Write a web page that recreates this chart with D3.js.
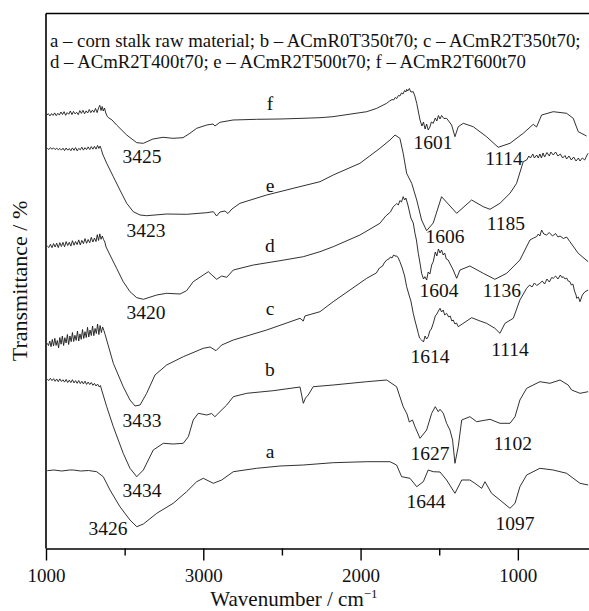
<!DOCTYPE html>
<html>
<head>
<meta charset="utf-8">
<script src="https://cdn.jsdelivr.net/npm/d3@7"></script>
<style>
  html, body { margin: 0; padding: 0; background: #fff; }
  svg { display: block; }
  text { font-family: "Liberation Serif", "DejaVu Serif", serif; fill: #111; }
</style>
</head>
<body>
<svg id="chart" width="589" height="611"></svg>
<script>
// ---------- DATA ----------
const seriesNames = ["a", "b", "c", "d", "e", "f"];
const legendLines = [
  "a \u2013 corn stalk raw material; b \u2013 ACmR0T350t70; c \u2013 ACmR2T350t70;",
  "d \u2013 ACmR2T400t70; e \u2013 ACmR2T500t70; f \u2013 ACmR2T600t70"
];
const majorTicks = [4000, 3000, 2000, 1000];
const majorTickLabels = ["1000", "3000", "2000", "1000"];
const minorTicks = [3500, 2500, 1500, 500];
const xTitle = "Wavenumber / cm";
const xTitleSup = "\u22121";
const yTitle = "Transmittance / %";

// [wavenumber, transmittance (offset, arbitrary units)]
const traceF = [[3994,433.5],[3985,434.8],[3975,432.6],[3965,434.9],[3955,433.1],[3945,435.6],[3935,432.8],[3925,435.2],[3915,433.4],[3905,436.5],[3895,434.0],[3885,436.8],[3875,433.2],[3865,435.9],[3855,434.3],[3845,437.5],[3835,433.9],[3825,437.1],[3815,434.6],[3805,436.2],[3795,433.8],[3785,437.9],[3775,435.1],[3765,438.2],[3755,434.7],[3745,437.6],[3735,435.5],[3725,439.0],[3715,435.8],[3705,438.4],[3695,436.2],[3685,440.1],[3675,435.9],[3665,441.0],[3658,443.2],[3650,438.0],[3643,442.0],[3636,437.5],[3628,440.5],[3620,435.5],[3610,432.0],[3600,430.5],[3580,428.5],[3551,423.5],[3487,413.5],[3423,405.8],[3381,405.2],[3320,409.5],[3256,411.2],[3193,410.2],[3129,410.8],[3085,415.2],[3042,420.2],[2978,423.5],[2938,424.5],[2926,422.5],[2894,426.2],[2811,428.5],[2661,429.2],[2512,429.5],[2366,430.2],[2258,430.8],[2176,431.8],[1961,436.8],[1900,440],[1834,445.2],[1815,447.5],[1800,449],[1790,448.5],[1780,451],[1770,450],[1760,453],[1750,452.5],[1740,455.5],[1730,454.5],[1720,458],[1712,456.5],[1707,459.2],[1700,457.5],[1690,460],[1680,456.5],[1665,456.8],[1655,452.5],[1643,445.2],[1622,428.5],[1610,422.5],[1600,426.5],[1590,419.5],[1580,424.5],[1570,418.5],[1559,421.5],[1550,426.5],[1538,425.2],[1525,430.5],[1515,427.5],[1505,433],[1495,429.5],[1485,433],[1470,430],[1453,430.2],[1421,423.5],[1400,411.8],[1379,421.8],[1347,425.2],[1284,421.8],[1199,411.8],[1125,401.2],[1050,405.2],[966,415.2],[902,424.2],[881,421.5],[849,433.5],[775,436.8],[690,435.2],[648,430.2],[616,416.8],[563,412.5]];

const traceE = [[3992,400.2],[3982,399.0],[3972,400.8],[3962,399.3],[3952,400.6],[3942,398.9],[3932,400.4],[3922,398.6],[3912,400.1],[3902,398.4],[3892,400.3],[3882,397.9],[3872,400.5],[3862,398.3],[3852,400.0],[3842,397.8],[3832,400.6],[3822,398.2],[3812,400.9],[3802,397.6],[3792,400.1],[3782,398.7],[3772,401.3],[3762,398.4],[3752,400.8],[3742,398.9],[3732,401.6],[3722,399.0],[3712,401.9],[3702,399.3],[3692,402.2],[3682,399.4],[3672,403.0],[3664,400.1],[3656,402.4],[3648,399.0],[3640,394.5],[3614,385.2],[3572,371.8],[3530,358.5],[3487,345.2],[3445,336.8],[3402,333.5],[3360,332.8],[3233,334.5],[3106,334.2],[2978,335.8],[2936,336.8],[2915,332.5],[2894,336.5],[2862,337.5],[2843,335],[2818,339.5],[2767,345.2],[2597,353.5],[2428,360.2],[2258,366.8],[2174,373.5],[2004,385.2],[1877,400.2],[1813,408.5],[1781,413.5],[1750,410.2],[1729,395.2],[1707,375.2],[1675,365.2],[1643,348.5],[1612,328.5],[1580,317.8],[1538,325.5],[1485,351.8],[1389,335.2],[1294,348.5],[1220,341.8],[1177,339.2],[1114,345.2],[1050,355.2],[1008,365.2],[966,386.8],[944,388.5],[930,392.5],[920,390.5],[905,394.5],[895,390.5],[880,393.5],[870,390.5],[860,394.5],[850,390.5],[840,395.5],[830,391.5],[815,396],[800,392.5],[790,396.5],[775,393.5],[760,396.5],[745,392.5],[730,394.5],[715,390.5],[700,393],[690,389.5],[675,392.5],[660,388.5],[645,391.5],[630,387.5],[615,390.5],[605,387.5],[590,390.5],[575,388.5],[560,393.5],[553,395.2]];

const traceD = [[3992,302.5],[3982,301.0],[3972,304.2],[3962,300.8],[3952,304.9],[3942,301.5],[3932,305.3],[3922,300.9],[3912,305.8],[3902,302.0],[3892,306.1],[3882,301.7],[3872,306.9],[3862,303.0],[3852,306.2],[3842,302.4],[3832,307.8],[3822,303.3],[3812,307.0],[3802,303.9],[3792,308.6],[3782,303.5],[3772,308.1],[3762,304.8],[3752,309.9],[3742,305.2],[3732,309.0],[3722,305.8],[3712,311.2],[3702,306.5],[3692,310.4],[3682,306.9],[3674,313.8],[3666,308.0],[3658,314.6],[3650,309.2],[3642,312.5],[3634,309.0],[3626,306.5],[3618,301.5],[3593,293.5],[3551,280.2],[3509,266.8],[3466,256.8],[3423,250.8],[3381,249.2],[3296,253.5],[3233,255.2],[3148,254.5],[3106,257.8],[3064,266.8],[3000,273.5],[2968,276.8],[2945,273.5],[2915,269.2],[2883,272.5],[2851,271.2],[2809,278.5],[2682,283.5],[2512,287.8],[2364,291.8],[2258,296.8],[2174,301.8],[2004,313.5],[1877,325.2],[1840,332.5],[1810,336.5],[1800,339.5],[1792,341.8],[1780,343.5],[1770,345],[1760,343.5],[1750,348],[1740,346.5],[1729,351.8],[1720,348.5],[1712,350.5],[1699,343.5],[1680,330.5],[1665,325.5],[1654,315.2],[1645,308.5],[1633,295.2],[1620,283.5],[1612,275.2],[1600,269.5],[1591,271.8],[1580,268.5],[1570,276.5],[1559,274.5],[1548,283.5],[1538,286.8],[1525,296.5],[1515,292.5],[1505,299.5],[1495,295.5],[1485,298.5],[1475,293.5],[1465,295.5],[1455,289.5],[1443,288.5],[1411,278.5],[1389,270.2],[1368,278.5],[1305,282.5],[1220,275.2],[1146,269.2],[1071,275.2],[987,288.5],[923,308.5],[900,310.5],[881,311.8],[870,314.5],[860,312.5],[849,318.5],[835,314.5],[817,313.5],[800,316],[780,312.5],[760,315],[745,311.5],[732,312.5],[710,310],[690,311.5],[669,306.8],[616,295.2],[553,286.8]];

const traceC = [[3992,205.2],[3984,203.0],[3976,207.5],[3968,201.8],[3960,209.0],[3952,202.5],[3944,210.2],[3936,203.1],[3928,208.0],[3920,200.5],[3912,211.0],[3904,204.3],[3896,212.5],[3888,203.0],[3880,210.8],[3872,205.5],[3864,214.0],[3856,204.0],[3848,212.5],[3840,206.8],[3832,216.0],[3824,207.0],[3816,213.2],[3808,208.1],[3800,217.5],[3792,207.5],[3784,214.6],[3776,209.2],[3768,219.0],[3760,210.0],[3752,216.8],[3744,211.0],[3736,221.2],[3728,211.5],[3720,218.5],[3712,213.0],[3704,222.5],[3696,212.8],[3688,220.0],[3680,215.0],[3672,224.5],[3664,214.0],[3656,223.0],[3648,216.0],[3640,221.5],[3632,218.0],[3624,214.0],[3616,209.5],[3572,185.2],[3509,161.8],[3466,148.5],[3434,142.5],[3402,143.5],[3360,155.2],[3307,173.5],[3233,183.5],[3127,191.8],[3000,200.2],[2957,201.5],[2919,197.8],[2883,203.5],[2809,208.5],[2597,218.5],[2385,230.2],[2364,227.5],[2354,232.5],[2258,236.8],[2174,246.8],[1961,270.2],[1900,275.5],[1880,280.5],[1860,282.5],[1850,285.5],[1834,288.5],[1820,289.5],[1810,291.5],[1800,290.5],[1790,293.5],[1781,292.5],[1770,292.5],[1760,290.5],[1750,286.8],[1735,280.5],[1720,272.5],[1707,261.8],[1690,252.5],[1680,247.5],[1665,235.2],[1655,228.5],[1645,222.5],[1633,215.2],[1625,210.5],[1612,208.5],[1600,206.5],[1590,212.5],[1580,209.5],[1570,211.8],[1560,217.5],[1550,219.5],[1538,225.2],[1525,232.5],[1515,234.5],[1505,237.5],[1495,240.2],[1485,236.5],[1475,238.5],[1465,233.5],[1453,235.2],[1440,231.5],[1430,232.5],[1420,227.5],[1411,228.5],[1400,224.5],[1390,225.5],[1379,221.8],[1294,230.8],[1240,227.5],[1199,225.2],[1146,220.2],[1114,215.2],[1082,225.2],[1029,230.2],[987,248.5],[944,260.2],[925,263.5],[910,261.5],[895,265.5],[880,263],[860,265.2],[845,267.5],[830,264.5],[815,269.5],[800,266.5],[785,271],[775,270.2],[760,272.5],[745,269.5],[730,273.5],[720,271],[711,271.8],[700,269.5],[690,270.5],[680,267.5],[669,266.8],[660,263.5],[650,264.5],[640,257.5],[630,253.5],[626,250.2],[615,251.5],[605,246.8],[590,253.5],[575,256.5],[553,258.5]];

const traceB = [[3992,169.2],[3982,168.0],[3972,170.1],[3962,167.9],[3952,169.8],[3942,167.2],[3932,169.5],[3922,166.8],[3912,169.6],[3902,167.0],[3892,168.7],[3882,166.4],[3872,169.1],[3862,166.0],[3852,168.4],[3842,165.9],[3832,168.8],[3822,165.6],[3812,167.9],[3802,165.2],[3792,168.0],[3782,164.9],[3772,167.2],[3762,164.6],[3752,167.3],[3742,164.1],[3732,166.4],[3722,164.0],[3712,166.0],[3702,163.2],[3692,165.1],[3682,162.5],[3672,164.4],[3662,161.6],[3654,163.0],[3646,158.5],[3614,141.8],[3572,121.8],[3509,95.2],[3466,80.2],[3423,71.8],[3381,78.5],[3318,98.5],[3254,105.2],[3191,104.5],[3127,105.2],[3095,111.8],[3064,128.5],[3032,135.2],[2978,133.5],[2947,135],[2926,131.8],[2894,136.8],[2851,143.5],[2809,151.8],[2724,155.2],[2555,157.8],[2385,161.5],[2364,145.2],[2350,150.5],[2333,153.5],[2301,161.8],[2174,163.5],[1961,166.8],[1834,168.5],[1771,161.8],[1729,141.8],[1705,134.5],[1690,126.5],[1670,128.5],[1654,121.8],[1622,110.2],[1580,118.5],[1548,135.2],[1525,141.8],[1506,136.8],[1495,139.2],[1474,135.2],[1453,125.2],[1432,118.5],[1415,108.5],[1400,85.2],[1379,101.8],[1357,128.5],[1305,131.8],[1262,126.8],[1177,129.2],[1114,125.2],[1050,125.2],[1018,131.8],[987,148.5],[944,160.2],[860,166.8],[796,165.2],[732,168.5],[680,163.5],[658,158.5],[605,155.2],[553,156.8]];

const traceA = [[3992,77.8],[3950,78.5],[3900,77.5],[3850,78.5],[3826,78.5],[3780,77.5],[3730,78],[3678,76.8],[3636,71.8],[3593,58.5],[3530,41.8],[3466,28.5],[3423,21.8],[3381,24.5],[3296,35.2],[3191,45.2],[3106,56.8],[3042,66.8],[3000,70.2],[2936,65.2],[2883,68.5],[2809,76.8],[2661,80.2],[2512,82.5],[2364,83.5],[2174,85.8],[1961,86.8],[1813,86.8],[1771,83.5],[1739,71.8],[1686,70.2],[1643,61.8],[1601,66.8],[1570,78.5],[1538,76.8],[1495,76.5],[1453,68.5],[1400,55.2],[1357,68.5],[1305,68.5],[1273,65.2],[1230,60.2],[1209,66.8],[1167,55.2],[1114,48.5],[1050,40.2],[1018,45.2],[987,61.8],[944,73.5],[860,80.2],[775,78.5],[690,75.2],[605,65.2],[553,63.5]];

const traces = [traceA, traceB, traceC, traceD, traceE, traceF];

// trace letters: [letter, wavenumber, transmittance]
const letterLabels = [["a",2576,90.5],["b",2576,172.5],["c",2576,233.5],["d",2576,296.5],["e",2576,356.5],["f",2576,438.5]];
// peak labels: [text, wavenumber (label centre), transmittance (baseline)]
const peakLabels = [
  ["3425",3390,385.5],["1601",1540,399.5],["1114",1088,383.5],
  ["3423",3364,311.5],["1606",1464,305.5],["1185",1076,318.5],
  ["3420",3364,229.5],["1604",1502,251.5],["1136",1101,251.5],
  ["3433",3390,121.5],["1614",1559,185.5],["1114",1050,192.5],
  ["3434",3390,51.5],["1627",1559,88.5],["1102",1031,98.5],
  ["3426",3606,13.5],["1644",1584,40.5],["1097",1018,18.5]
];

// ---------- CHART ----------
const svg = d3.select("#chart");
const mLeft = 46, mTop = 13.5, mBottom = 548.5, mRight = 596.5;

const x = d3.scaleLinear().domain([4000, 500]).range([mLeft, mRight]);
const y = d3.scaleLinear().domain([0, 535]).range([mBottom, mTop]);

const line = d3.line().x(d => x(d[0])).y(d => y(d[1]));

svg.append("g").selectAll("path").data(traces).join("path")
  .attr("d", line)
  .attr("fill", "none")
  .attr("stroke", "#1a1a1a")
  .attr("stroke-width", 0.9)
  .attr("stroke-linejoin", "round");

// frame lines
svg.append("line").attr("x1", mLeft).attr("x2", 589).attr("y1", mTop).attr("y2", mTop)
  .attr("stroke", "#000").attr("stroke-width", 1.5);
svg.append("line").attr("x1", mLeft).attr("x2", mLeft).attr("y1", mTop).attr("y2", mBottom)
  .attr("stroke", "#000").attr("stroke-width", 1.6);

// x axis
const xAxis = d3.axisBottom(x).tickValues(majorTicks)
  .tickFormat((d, i) => majorTickLabels[i]).tickSize(12).tickSizeOuter(0).tickPadding(8);
const gx = svg.append("g").attr("transform", `translate(0,${mBottom})`).call(xAxis);
gx.select(".domain").attr("stroke", "#000").attr("stroke-width", 1.6);
gx.selectAll(".tick line").attr("stroke", "#000").attr("stroke-width", 1.4);
gx.selectAll(".tick text").attr("font-family", "Liberation Serif, serif").attr("font-size", 19).attr("fill", "#111");

const xMinor = d3.axisBottom(x).tickValues(minorTicks).tickFormat("").tickSize(7).tickSizeOuter(0);
const gm = svg.append("g").attr("transform", `translate(0,${mBottom})`).call(xMinor);
gm.select(".domain").remove();
gm.selectAll(".tick line").attr("stroke", "#000").attr("stroke-width", 1.4);

// axis titles
const xt = svg.append("text").attr("x", 294).attr("y", 606).attr("text-anchor", "middle")
  .attr("font-size", 21);
xt.append("tspan").text(xTitle);
xt.append("tspan").text(xTitleSup).attr("font-size", 13).attr("dy", -8);

svg.append("text").attr("transform", "translate(27,281) rotate(-90)")
  .attr("text-anchor", "middle").attr("font-size", 22).text(yTitle);

// legend
const lg = svg.append("g");
legendLines.forEach((t, i) => {
  lg.append("text").attr("x", 50).attr("y", 47 + i * 21).attr("font-size", 16).text(t);
});
const first = lg.select("text").node();
const w = first.getComputedTextLength();
const fs = 16 * 531 / w;
lg.selectAll("text").attr("font-size", fs);

// trace letters
svg.append("g").selectAll("text").data(letterLabels).join("text")
  .attr("x", d => x(d[1])).attr("y", d => y(d[2]))
  .attr("text-anchor", "middle").attr("font-size", 19.5).text(d => d[0]);

// peak labels
svg.append("g").selectAll("text").data(peakLabels).join("text")
  .attr("x", d => x(d[1])).attr("y", d => y(d[2]))
  .attr("text-anchor", "middle").attr("font-size", 19.5).text(d => d[0]);
</script>
</body>
</html>
